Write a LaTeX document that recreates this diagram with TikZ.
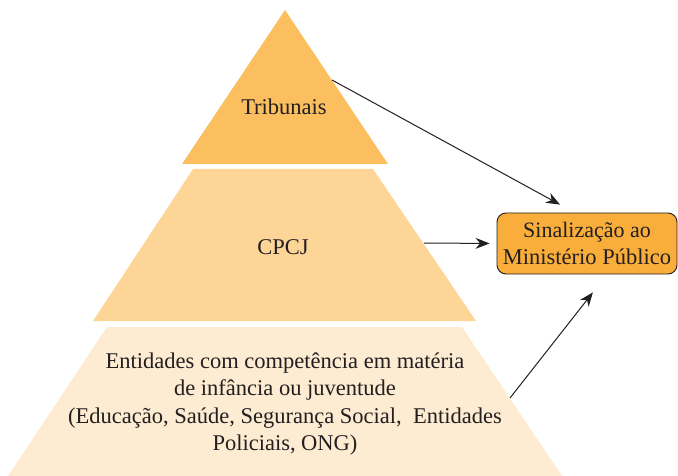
\documentclass[tikz,border=0pt]{standalone}
\usepackage{fontspec}
\setmainfont{Liberation Serif}
\usepackage{xcolor}
\usepackage{tikz}
\usetikzlibrary{arrows.meta}
\definecolor{topband}{HTML}{FBBF5F}
\definecolor{midband}{HTML}{FDD597}
\definecolor{lowband}{HTML}{FDEBD2}
\definecolor{mpfill}{HTML}{F9AE3B}
\definecolor{ink}{HTML}{231F20}

\begin{document}
\begin{tikzpicture}[x=1pt,y=-1pt,
    lbl/.style={text=ink,font=\fontsize{22.5}{27.5}\selectfont,align=center,inner sep=0pt},
    mpbox/.style={lbl,draw=ink,line width=0.9pt,fill=mpfill,rounded corners=9pt,
      minimum width=180pt,minimum height=61pt},
    arr/.style={draw=ink,line width=1pt,-{Stealth[length=14pt,width=11pt]}}]
  \useasboundingbox (0,0) rectangle (678,476);
  % pyramid bands
  \fill[topband] (285,10) -- (388,164) -- (182,164) -- cycle;
  \fill[midband] (193,169) -- (373,169) -- (476,321) -- (93,321) -- cycle;
  \fill[lowband] (107,327) -- (462,327) -- (562,476) -- (8,476) -- cycle;
  \node[lbl] (trib) at (284,107) {Tribunais};
  \node[lbl] (cpcj) at (283,247) {CPCJ};
  \node[lbl] (ent) at (285,404) {Entidades com competência em matéria\\
    de infância ou juventude\\
    (Educação, Saúde, Segurança Social, \ Entidades\\
    Policiais, ONG)};
  % signalling box
  \node[mpbox] (sinal) at (587,243.5) {\fontsize{22}{27}\selectfont Sinalização ao\\Ministério Público};
  \coordinate (trib-e) at (332,80);
  \coordinate (cpcj-e) at (424,243);
  \coordinate (ent-e) at (510,398);
  \draw[arr,shorten >=16.6pt] (trib-e) -- ([xshift=-12.4pt]sinal.north);
  \draw[arr,shorten >=7pt] (cpcj-e) -- (sinal.west);
  \draw[arr,shorten >=22.8pt] (ent-e) -- ([xshift=20pt]sinal.south);
\end{tikzpicture}
\end{document}
